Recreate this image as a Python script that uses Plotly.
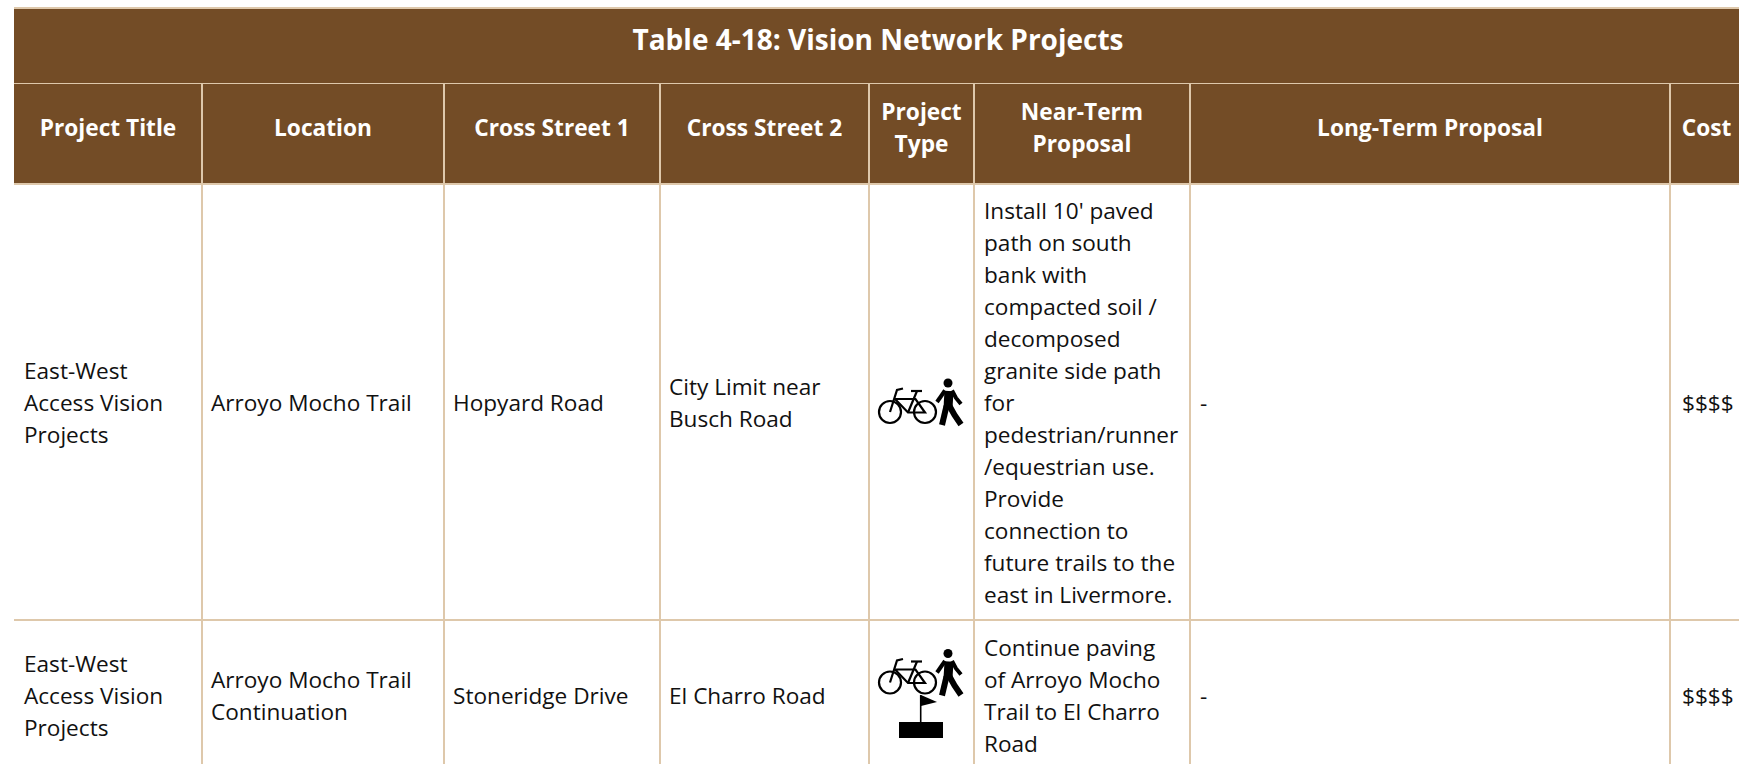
import plotly.graph_objects as go

TITLE = "Table 4-18: Vision Network Projects"
HEADERS = ["Project Title", "Location", "Cross Street 1", "Cross Street 2", "Project\nType",
           "Near-Term\nProposal", "Long-Term Proposal", "Cost"]
ROW_1 = ["East-West\nAccess Vision\nProjects", "Arroyo Mocho Trail", "Hopyard Road",
         "City Limit near\nBusch Road", "",
         "Install 10' paved\npath on south\nbank with\ncompacted soil /\ndecomposed\ngranite side path\nfor\npedestrian/runner\n/equestrian use.\nProvide\nconnection to\nfuture trails to the\neast in Livermore.",
         "-", "$$$$"]
ROW_2 = ["East-West\nAccess Vision\nProjects", "Arroyo Mocho Trail\nContinuation", "Stoneridge Drive",
         "El Charro Road", "",
         "Continue paving\nof Arroyo Mocho\nTrail to El Charro\nRoad",
         "-", "$$$$"]

# layout of the page (pixels)
W, H = 1739, 764
LEFT = 14
COL_LINES = [202, 444, 660, 869, 974, 1190, 1670]
COL_EDGES = [LEFT] + COL_LINES + [1743]
TEXT_X = [24, 211, 453, 669, 0, 984, 1200, 1682]
ROW_CENTRES = [405.8, 698.5]
PITCH = 32
BROWN = "#734c26"
BORDER = "#dec8ab"
FONT = "Open Sans"
BODY_SIZE = 22.6
HEAD_SIZE = 22.7
TITLE_SIZE = 28

fig = go.Figure()
shapes = []


def rect(x0, y0, x1, y1, color):
    shapes.append(dict(type="rect", x0=x0, y0=y0, x1=x1, y1=y1, fillcolor=color, line_width=0, layer="below"))


def stroke(points, width, dy=0):
    d = "M" + " L".join(f"{x} {y + dy}" for x, y in points)
    shapes.append(dict(type="path", path=d, line=dict(color="black", width=width)))


def add_text(xs, ys, texts, size, color, pos, bold=False):
    fig.add_trace(go.Scatter(
        x=xs, y=ys, text=[f"<b>{t}</b>" if bold else t for t in texts], mode="text", textposition=pos,
        textfont=dict(family=FONT, size=size, color=color), hoverinfo="skip", showlegend=False))


def cell_lines(text, cy):
    parts = text.split("\n")
    start = cy - PITCH * (len(parts) - 1) / 2
    return parts, [start + i * PITCH for i in range(len(parts))]


# fills and rules
rect(LEFT, 7, W, 9, BORDER)
rect(LEFT, 9, W, 183, BROWN)
rect(LEFT, 83, W, 84, BORDER)
rect(LEFT, 183, W, 185, BORDER)
rect(LEFT, 619, W, 621, BORDER)
for x in COL_LINES:
    rect(x - 1, 84, x + 1, H, BORDER)

# title + headers
add_text([878], [43], [TITLE], TITLE_SIZE, "white", "middle center", bold=True)
hx, hy, ht = [], [], []
for i, h in enumerate(HEADERS):
    p, ys = cell_lines(h, 130.5)
    cx = (COL_EDGES[i] + COL_EDGES[i + 1]) / 2
    hx += [cx] * len(p)
    hy += ys
    ht += p
add_text(hx, hy, ht, HEAD_SIZE, "white", "middle center", bold=True)

# body
bx, by, bt = [], [], []
for row, cy in zip([ROW_1, ROW_2], ROW_CENTRES):
    for i, c in enumerate(row):
        if not c:
            continue
        p, ys = cell_lines(c, cy)
        bx += [TEXT_X[i]] * len(p)
        by += ys
        bt += p
add_text(bx, by, bt, BODY_SIZE, "#111111", "middle right")


def icon(dy):
    # bicycle
    for cx in (890, 925):
        shapes.append(dict(type="circle", x0=cx - 11, x1=cx + 11, y0=401 + dy, y1=423 + dy,
                           line=dict(color="black", width=2.2)))
    for seg in ([(890, 412), (897, 390), (903, 388.5)],
                [(895, 399), (915.5, 399), (925, 412.5), (908, 412.5), (895, 399)],
                [(917, 391), (908, 412.5)],
                [(911, 391), (922, 391)]):
        stroke(seg, 2.2, dy)
    # walker
    shapes.append(dict(type="circle", x0=943.5, x1=952.5, y0=378.5 + dy, y1=387.5 + dy, fillcolor="black", line_width=0))
    stroke([(949, 391), (948, 408)], 9, dy)
    stroke([(945, 390.5), (937, 402)], 4, dy)
    stroke([(952, 390.5), (956, 398), (961, 404)], 4, dy)
    stroke([(946.5, 406), (942, 425)], 6, dy)
    stroke([(949.5, 406), (954.5, 415), (961, 424.5)], 6, dy)


icon(0)
icon(270.5)
# trailhead flag
stroke([(920.7, 695), (920.7, 722)], 1.6)
shapes.append(dict(type="path", path="M921 695 L937 702 L921 706 Z", fillcolor="black", line_width=0))
shapes.append(dict(type="rect", x0=899, x1=943, y0=722, y1=738, fillcolor="black", line_width=0))

fig.update_layout(
    width=W, height=H, margin=dict(l=0, r=0, t=0, b=0), paper_bgcolor="white", plot_bgcolor="white",
    xaxis=dict(range=[0, W], visible=False, fixedrange=True),
    yaxis=dict(range=[H, 0], visible=False, fixedrange=True),
    shapes=shapes, showlegend=False)
fig.write_html("out.html", config={"displayModeBar": False},
               post_script="document.body.style.margin='0';document.body.style.overflow='hidden';")
